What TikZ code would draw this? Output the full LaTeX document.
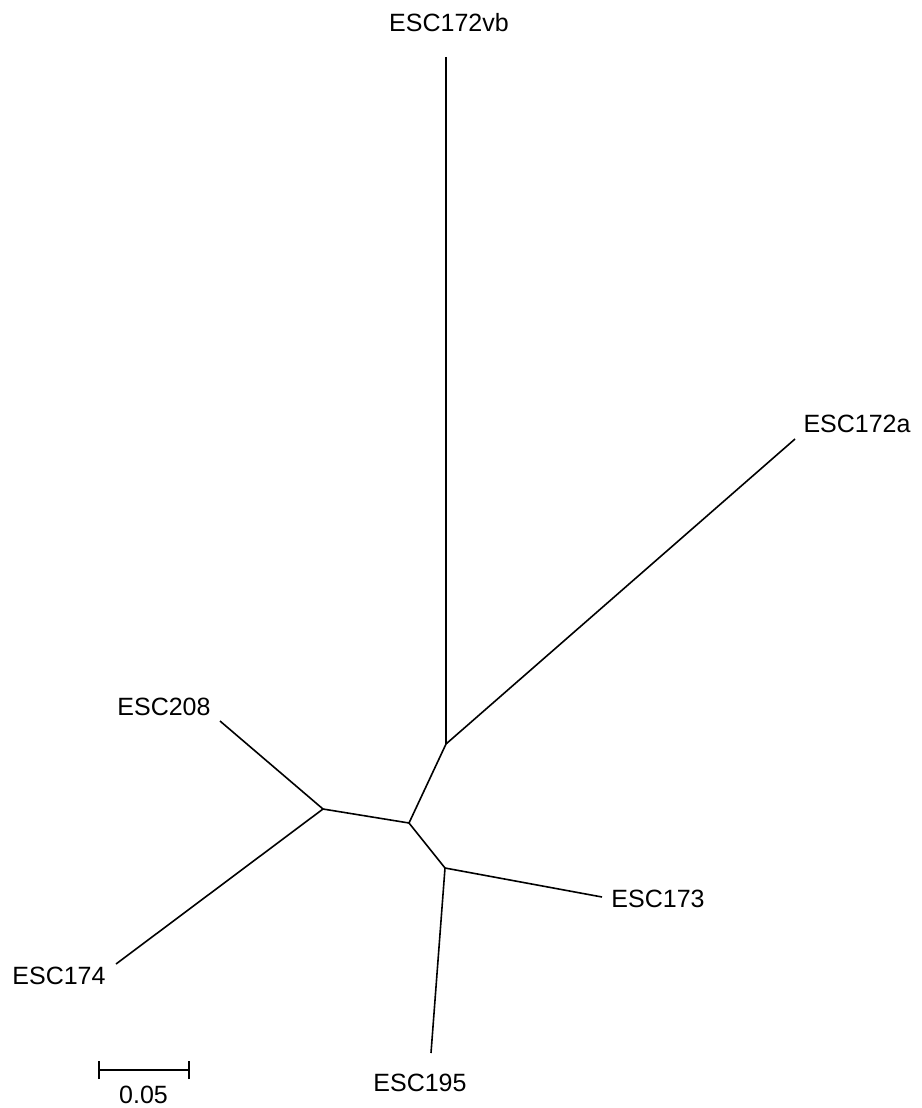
\documentclass[tikz,border=0pt]{standalone}
\usepackage{fontspec}
\setmainfont{Liberation Sans}
\begin{document}
\begin{tikzpicture}[x=1pt,y=-1pt,
  branch/.style={line width=1.6pt, line cap=butt},
  leaflabel/.style={inner sep=0pt, font=\fontsize{25}{30}\selectfont},
  scalebar/.style={line width=1.9pt}]
\useasboundingbox[fill=white] (0,0) rectangle (921,1108);
% internal nodes
\coordinate (A) at (446,744);
\coordinate (B) at (409,823);
\coordinate (C) at (323,809);
\coordinate (D) at (445,868);
% leaf ends
\coordinate (vbEnd) at (446,57);
\coordinate (aEnd) at (795,439);
\coordinate (e208) at (220,721);
\coordinate (e174) at (116,964);
\coordinate (e173) at (602,897);
\coordinate (e195) at (431,1053);
% labels
\node[leaflabel] (Lvb) at (449,23) {ESC172vb};
\node[leaflabel] (La) at (857,424) {ESC172a};
\node[leaflabel] (L208) at (164,707) {ESC208};
\node[leaflabel] (L174) at (59,976) {ESC174};
\node[leaflabel] (L173) at (658,899) {ESC173};
\node[leaflabel] (L195) at (420,1083) {ESC195};
% branches
\draw[branch] (vbEnd) -- (A);
\draw[branch] (aEnd) -- (A);
\draw[branch] (A) -- (B);
\draw[branch] (B) -- (C);
\draw[branch] (B) -- (D);
\draw[branch] (C) -- (e208);
\draw[branch] (C) -- (e174);
\draw[branch] (D) -- (e173);
\draw[branch] (D) -- (e195);
% scale bar
\coordinate (s1) at (99,1070);
\coordinate (s2) at (189,1070);
\draw[scalebar] (s1) -- (s2);
\draw[scalebar] ([yshift=-9pt]s1) -- ([yshift=9pt]s1);
\draw[scalebar] ([yshift=-9pt]s2) -- ([yshift=9pt]s2);
\node[leaflabel] (Lscale) at (143.5,1095) {0.05};
\end{tikzpicture}
\end{document}
